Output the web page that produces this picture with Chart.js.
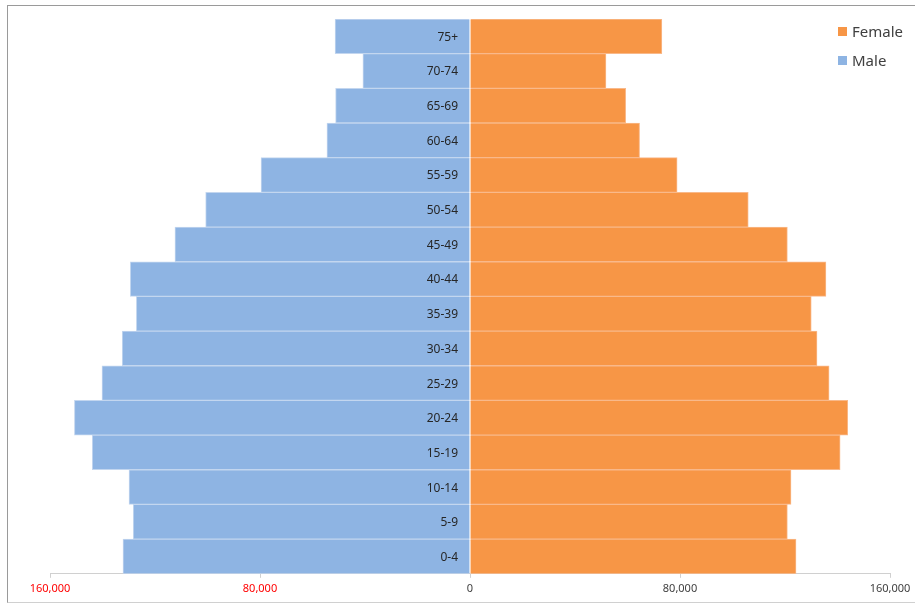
<!DOCTYPE html>
<html>
<head>
<meta charset="utf-8">
<script src="https://cdn.jsdelivr.net/npm/chart.js@4.4.0/dist/chart.umd.min.js"></script>
<style>
  html, body { margin: 0; padding: 0; background: #ffffff; }
  #wrap { position: relative; width: 915px; height: 604px; overflow: hidden; }
  #frame { position: absolute; left: 7px; top: 5px; width: 915px; height: 598px;
           border-left: 1px solid #9a9a9a; border-top: 1px solid #9a9a9a; border-bottom: 1px solid #d0d0d0; box-sizing: border-box; }
  canvas { position: absolute; left: 0; top: 0; }
  .leg { position: absolute; left: 838px; font-family: "Noto Sans", sans-serif; font-size: 15px; color: #404040; line-height: 18px; }
  .leg span.sw { display: inline-block; width: 9px; height: 9px; margin-right: 5px; vertical-align: 1px; }
</style>
</head>
<body>
<div id="wrap">
  <div id="frame"></div>
  <canvas id="c" width="915" height="604"></canvas>
  <div class="leg" style="top:22px;"><span class="sw" style="background:#F79646"></span>Female</div>
  <div class="leg" style="top:51px;"><span class="sw" style="background:#8EB4E3"></span>Male</div>
</div>
<script>
const ageGroups = ['75+', '70-74', '65-69', '60-64', '55-59', '50-54', '45-49', '40-44', '35-39', '30-34', '25-29', '20-24', '15-19', '10-14', '5-9', '0-4'];
const maleValues = [51400, 40800, 51200, 54500, 79600, 100700, 112400, 129400, 127100, 132500, 140200, 150700, 143900, 129900, 128300, 132200];
const femaleValues = [73100, 51800, 59300, 64600, 78900, 106000, 120900, 135600, 130000, 132200, 136800, 143900, 141000, 122300, 120900, 124200];
const xTicks = [-160000, -80000, 0, 80000, 160000];

const categoryLabels = {
  id: 'categoryLabels',
  afterDatasetsDraw(chart) {
    const ctx = chart.ctx;
    const xs = chart.scales.x, ys = chart.scales.y;
    const x0 = xs.getPixelForValue(0);
    ctx.save();
    ctx.font = '12px "Noto Sans", sans-serif';
    ctx.fillStyle = '#262626';
    ctx.textAlign = 'right';
    ctx.textBaseline = 'middle';
    ageGroups.forEach((lab, i) => {
      ctx.fillText(lab, x0 - 12, ys.getPixelForValue(i) + 1);
    });
    ctx.restore();
  }
};

new Chart(document.getElementById('c'), {
  type: 'bar',
  data: {
    labels: ageGroups,
    datasets: [
      { label: 'Male', data: maleValues.map(v => -v), backgroundColor: '#8EB4E3', borderColor: '#c3d6ef', borderWidth: 1, barPercentage: 1, categoryPercentage: 1 },
      { label: 'Female', data: femaleValues, backgroundColor: '#F79646', borderColor: '#f9b98a', borderWidth: 1, barPercentage: 1, categoryPercentage: 1 }
    ]
  },
  options: {
    indexAxis: 'y',
    responsive: false,
    animation: false,
    layout: { padding: { left: 50, right: 25, top: 19, bottom: 5 } },
    plugins: { legend: { display: false }, tooltip: { enabled: false } },
    scales: {
      x: {
        stacked: true,
        min: -160000, max: 160000,
        afterBuildTicks: (s) => { s.ticks = xTicks.map(v => ({ value: v })); },
        ticks: {
          autoSkip: false, maxRotation: 0, padding: 4,
          callback: (v) => Math.abs(v).toLocaleString('en-US'),
          color: (c) => (c.tick && c.tick.value < 0) ? '#ff0000' : '#404040',
          font: { family: '"Noto Sans", sans-serif', size: 11 }
        },
        grid: { drawOnChartArea: false, color: '#d0d0d0', tickLength: 4 },
        border: { color: '#d0d0d0' }
      },
      y: { stacked: true, display: false }
    }
  },
  plugins: [categoryLabels]
});
</script>
</body>
</html>
